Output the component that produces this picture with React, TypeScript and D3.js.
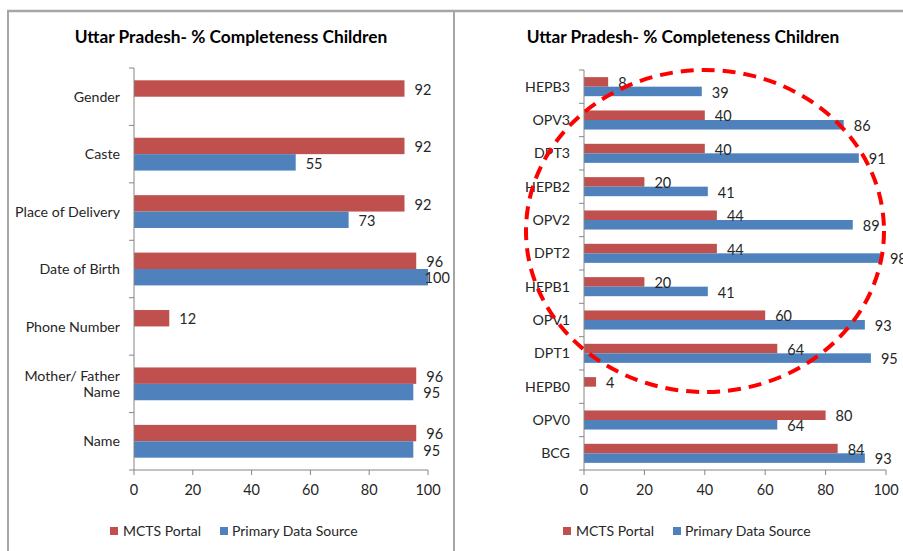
import React from "react";
import * as d3 from "d3";

const leftCategories = ["Gender", "Caste", "Place of Delivery", "Date of Birth", "Phone Number", "Mother/ Father Name", "Name"];
const leftMcts = [92, 92, 92, 96, 12, 96, 96];
const leftPrimary: (number | null)[] = [null, 55, 73, 100, null, 95, 95];

const rightCategories = ["HEPB3", "OPV3", "DPT3", "HEPB2", "OPV2", "DPT2", "HEPB1", "OPV1", "DPT1", "HEPB0", "OPV0", "BCG"];
const rightMcts = [8, 40, 40, 20, 44, 44, 20, 60, 64, 4, 80, 84];
const rightPrimary: (number | null)[] = [39, 86, 91, 41, 89, 98, 41, 93, 95, null, 64, 93];

const xTicks = [0, 20, 40, 60, 80, 100];
const seriesNames = ["MCTS Portal", "Primary Data Source"];
const titleText = "Uttar Pradesh- % Completeness Children";

const RED = "#C0504D";
const BLUE = "#4F81BD";
const AXIS = "#868686";
const TEXT = "#262626";
const FONT = "Lato, 'Open Sans', sans-serif";

type PanelProps = {
  categories: string[];
  mcts: (number | null)[];
  primary: (number | null)[];
  x0: number;
  x1: number;
  yTop: number;
  yBottom: number;
  titleX: number;
  labelLimit: number;
  legendX: number;
  twoLine?: Record<string, string[]>;
};

function Panel(p: PanelProps) {
  const x = d3.scaleLinear().domain([0, 100]).range([p.x0, p.x1]);
  const y = d3.scaleBand<string>().domain(p.categories).range([p.yTop, p.yBottom]);
  const bw = y.bandwidth();
  const h = bw / 3.5;
  const valFont = 14.5;
  const digitW = 7.8;

  const label = (v: number, cy: number, key: string) => {
    const w = String(v).length * digitW;
    let lx = x(v) + 10;
    if (lx + w > p.labelLimit) lx = p.labelLimit - w;
    return (
      <text key={key} x={lx} y={cy} dy="0.36em" fontSize={valFont} fill={TEXT} fontFamily={FONT}>
        {v}
      </text>
    );
  };

  const boundaries = p.categories.map((c) => y(c)!).concat([p.yBottom]);

  return (
    <g>
      <text x={p.titleX} y={43} textAnchor="middle" fontSize={17.3} fontWeight="bold" fill="#000" fontFamily={FONT}>
        {titleText}
      </text>
      {p.categories.map((c, i) => {
        const mid = y(c)! + bw / 2;
        const m = p.mcts[i];
        const pr = p.primary[i];
        return (
          <g key={c}>
            {m != null && <rect x={x(0)} y={mid - h} width={x(m) - x(0)} height={h} fill={RED} />}
            {pr != null && <rect x={x(0)} y={mid} width={x(pr) - x(0)} height={h} fill={BLUE} />}
          </g>
        );
      })}
      <line x1={p.x0} x2={p.x0} y1={p.yTop} y2={p.yBottom} stroke={AXIS} strokeWidth={1} />
      {boundaries.map((b, i) => (
        <line key={"yt" + i} x1={p.x0 - 5} x2={p.x0} y1={b} y2={b} stroke={AXIS} strokeWidth={1} />
      ))}
      <line x1={p.x0} x2={p.x1} y1={p.yBottom} y2={p.yBottom} stroke={AXIS} strokeWidth={1} />
      {xTicks.map((t) => (
        <g key={"xt" + t}>
          <line x1={x(t)} x2={x(t)} y1={p.yBottom} y2={p.yBottom + 5} stroke={AXIS} strokeWidth={1} />
          <text x={x(t)} y={490} dy="0.36em" textAnchor="middle" fontSize={14.5} fill={TEXT} fontFamily={FONT}>
            {t}
          </text>
        </g>
      ))}
      {p.categories.map((c) => {
        const mid = y(c)! + bw / 2;
        const lines = p.twoLine && p.twoLine[c] ? p.twoLine[c] : [c];
        return (
          <text key={"cl" + c} x={p.x0 - 14} y={mid} textAnchor="end" fontSize={14.2} fill={TEXT} fontFamily={FONT}>
            {lines.map((ln, j) => (
              <tspan key={j} x={p.x0 - 14} dy={j === 0 ? `${0.36 - (lines.length - 1) * 0.56}em` : "1.12em"}>
                {ln}
              </tspan>
            ))}
          </text>
        );
      })}
      {p.categories.map((c, i) => {
        const mid = y(c)! + bw / 2;
        const m = p.mcts[i];
        const pr = p.primary[i];
        return (
          <g key={"vl" + c}>
            {m != null && label(m, mid - h / 2 + 1, "m" + c)}
            {pr != null && label(pr, mid + h / 2 + 1, "p" + c)}
          </g>
        );
      })}
      <rect x={p.legendX} y={527} width={8} height={8} fill={RED} />
      <text x={p.legendX + 13} y={531} dy="0.36em" fontSize={14} fill={TEXT} fontFamily={FONT}>
        {seriesNames[0]}
      </text>
      <rect x={p.legendX + 110} y={527} width={8} height={8} fill={BLUE} />
      <text x={p.legendX + 122} y={531} dy="0.36em" fontSize={14} fill={TEXT} fontFamily={FONT}>
        {seriesNames[1]}
      </text>
    </g>
  );
}

export default function App() {
  return (
    <svg width={903} height={551} style={{ position: "absolute", left: 0, top: 0, background: "#fff" }}>
      <rect x={0} y={0} width={903} height={551} fill="#fff" />
      <line x1={7} x2={903} y1={11} y2={11} stroke="#a6a6a6" strokeWidth={2.5} />
      <line x1={8} x2={8} y1={11} y2={551} stroke="#a6a6a6" strokeWidth={2} />
      <line x1={454} x2={454} y1={11} y2={551} stroke="#a6a6a6" strokeWidth={2} />
      <Panel
        categories={leftCategories}
        mcts={leftMcts}
        primary={leftPrimary}
        x0={134}
        x1={428}
        yTop={68}
        yBottom={470}
        titleX={231}
        labelLimit={448}
        legendX={110}
        twoLine={{ "Mother/ Father Name": ["Mother/ Father", "Name"] }}
      />
      <Panel
        categories={rightCategories}
        mcts={rightMcts}
        primary={rightPrimary}
        x0={584}
        x1={886}
        yTop={70}
        yBottom={470}
        titleX={683}
        labelLimit={1000}
        legendX={563}
      />
      <ellipse cx={705} cy={231} rx={179} ry={161} fill="none" stroke="#ff0000" strokeWidth={4} strokeDasharray="13 8" />
    </svg>
  );
}
